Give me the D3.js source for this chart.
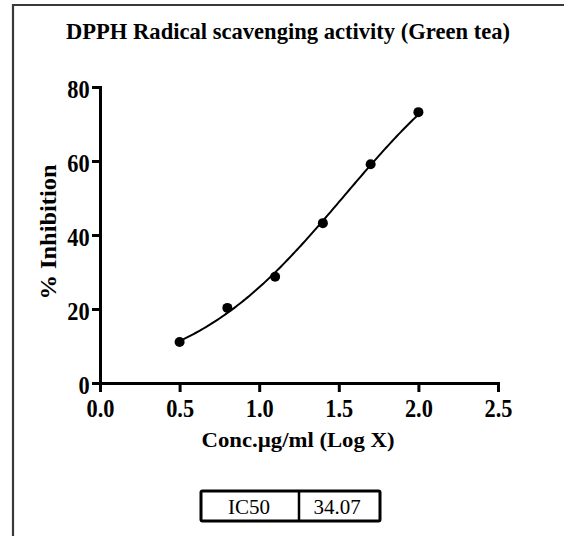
<!DOCTYPE html>
<html>
<head>
<meta charset="utf-8">
<script src="https://cdn.jsdelivr.net/npm/d3@7"></script>
<style>
  html, body { margin: 0; padding: 0; background: #fff; }
  svg { display: block; }
  text { font-family: "Liberation Serif", "Times New Roman", serif; fill: #000; }
</style>
</head>
<body>
<svg id="chart" width="564" height="536"></svg>
<script>
// DPPH radical scavenging data (Green tea)
const logConc = [0.50, 0.80, 1.10, 1.40, 1.70, 2.00];
const inhibition = [11.1, 20.3, 28.7, 43.2, 59.1, 73.2];
const xTicks = [0.0, 0.5, 1.0, 1.5, 2.0, 2.5];
const yTicks = [0, 20, 40, 60, 80];
const ic50 = 34.07;
const tableRow = ["IC50", ic50.toFixed(2)];

// Log(agonist) vs. response fit: bottom, top and Hill slope
const fitBottom = 0;
const fitTop = 101;
const fitHill = 0.87;

const svg = d3.select("#chart");

// Outer frame (left and top edges)
svg.append("path")
  .attr("d", "M13,536 L13,5 L564,5")
  .attr("fill", "none")
  .attr("stroke", "#3a3a3a")
  .attr("stroke-width", 2.2);

const x = d3.scaleLinear().domain([0, 2.5]).range([100, 498]);
const y = d3.scaleLinear().domain([0, 80]).range([383, 87]);

// Title
svg.append("text")
  .attr("x", 288).attr("y", 39)
  .attr("text-anchor", "middle")
  .attr("font-weight", "bold")
  .attr("font-size", 23)
  .attr("textLength", 444)
  .attr("lengthAdjust", "spacingAndGlyphs")
  .text("DPPH Radical scavenging activity (Green tea)");

// X axis
const gx = svg.append("g")
  .attr("transform", `translate(0,${y(0)})`)
  .call(d3.axisBottom(x).tickValues(xTicks).tickFormat(d3.format(".1f"))
    .tickSize(9).tickSizeOuter(0).tickPadding(7));

// Y axis
const gy = svg.append("g")
  .attr("transform", `translate(${x(0)},0)`)
  .call(d3.axisLeft(y).tickValues(yTicks).tickFormat(d3.format("d"))
    .tickSize(8).tickSizeOuter(0).tickPadding(4));

[gx, gy].forEach(g => {
  g.select(".domain").attr("stroke", "#000").attr("stroke-width", 3).attr("stroke-linecap", "square");
  g.selectAll(".tick line").attr("stroke", "#000").attr("stroke-width", 3);
  g.selectAll(".tick text")
    .attr("font-family", "Liberation Serif")
    .attr("font-weight", "bold")
    .attr("font-size", 26)
    .attr("fill", "#000")
    .attr("transform", "scale(0.86,1)");
});
gy.selectAll(".tick text").attr("dy", "0.4em");

// Axis titles
svg.append("text")
  .attr("x", 298).attr("y", 447)
  .attr("text-anchor", "middle")
  .attr("font-weight", "bold")
  .attr("font-size", 22)
  .attr("textLength", 193)
  .attr("lengthAdjust", "spacingAndGlyphs")
  .text("Conc.µg/ml (Log X)");

svg.append("text")
  .attr("transform", "translate(56,232) rotate(-90)")
  .attr("text-anchor", "middle")
  .attr("font-weight", "bold")
  .attr("font-size", 23)
  .attr("textLength", 135)
  .attr("lengthAdjust", "spacingAndGlyphs")
  .text("% Inhibition");

// Fitted sigmoid curve over the measured concentration range
const logIC50 = Math.log10(ic50);
const fit = v => fitBottom + (fitTop - fitBottom) / (1 + Math.pow(10, (logIC50 - v) * fitHill));
const [xMin, xMax] = d3.extent(logConc);
const fitX = d3.range(0, 121).map(i => xMin + (xMax - xMin) * i / 120);
svg.append("path")
  .datum(fitX)
  .attr("fill", "none")
  .attr("stroke", "#000")
  .attr("stroke-width", 2)
  .attr("d", d3.line().x(v => x(v)).y(v => y(fit(v))));

// Measured points
const pts = logConc.map((v, i) => [v, inhibition[i]]);
svg.selectAll("circle.pt")
  .data(pts)
  .join("circle")
  .attr("class", "pt")
  .attr("cx", d => x(d[0]))
  .attr("cy", d => y(d[1]))
  .attr("r", 5)
  .attr("fill", "#000");

// IC50 table
const tbl = svg.append("g");
tbl.append("rect")
  .attr("x", 201).attr("y", 491)
  .attr("width", 179).attr("height", 30)
  .attr("fill", "#fff")
  .attr("stroke", "#000")
  .attr("stroke-width", 3)
  .attr("rx", 1.5);
tbl.append("line")
  .attr("x1", 299).attr("x2", 299)
  .attr("y1", 491).attr("y2", 521)
  .attr("stroke", "#000")
  .attr("stroke-width", 2.5);
tbl.selectAll("text")
  .data(tableRow)
  .join("text")
  .attr("x", (d, i) => i === 0 ? 249 : 337)
  .attr("y", 514)
  .attr("text-anchor", "middle")
  .attr("font-size", 21)
  .text(d => d);
</script>
</body>
</html>
